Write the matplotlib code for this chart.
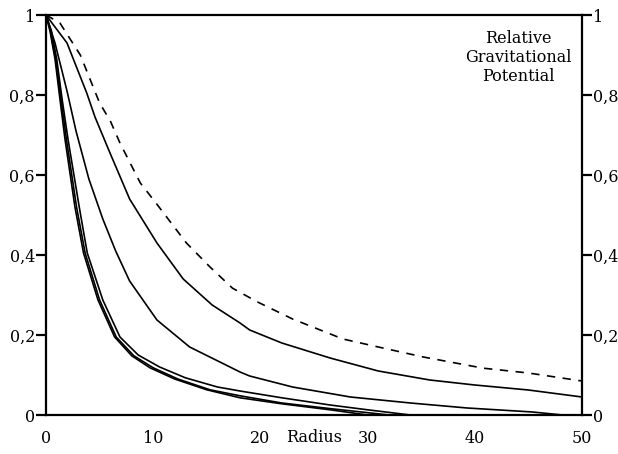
import numpy as np
import matplotlib
matplotlib.use("Agg")
import matplotlib.pyplot as plt

# values (radius, relative potential)
dash_r = [0, 1.3, 3.2, 5.0, 6.0, 6.9, 8.8, 10.4, 13.1, 15.3, 17.4, 19.7, 23, 27.7, 31, 35.2, 40.8, 45, 50]
dash_v = [1, 0.98, 0.90, 0.78, 0.735, 0.68, 0.58, 0.525, 0.43, 0.37, 0.317, 0.283, 0.24, 0.19, 0.17, 0.145, 0.117, 0.105, 0.085]

a_r = [0, 0.84, 1.96, 3.8, 4.57, 5.97, 7.8, 10.35, 12.8, 15.5, 18.1, 19, 22, 26.5, 31, 35.8, 40, 45, 50]
a_v = [1, 0.97, 0.93, 0.805, 0.745, 0.655, 0.54, 0.43, 0.34, 0.275, 0.23, 0.2125, 0.18, 0.1425, 0.11, 0.0875, 0.075, 0.0625, 0.045]

b_r = [0, 0.84, 1.96, 2.8, 4.0, 5.3, 6.5, 7.8, 10.35, 13.4, 18.1, 19, 23, 28.4, 34, 39.3, 45.4, 48.2, 50]
b_v = [1, 0.93, 0.81, 0.71, 0.59, 0.49, 0.41, 0.335, 0.2375, 0.17, 0.1075, 0.0975, 0.07, 0.045, 0.03, 0.0175, 0.0075, 0.0, 0.0]

c_r = [0, 0.37, 0.84, 1.3, 1.77, 2.7, 3.5, 4.85, 6.4, 8, 9.7, 12, 15, 18.1, 22, 26.5, 30]
c_v = [1, 0.96, 0.89, 0.79, 0.69, 0.52, 0.405, 0.2875, 0.195, 0.148, 0.118, 0.09, 0.063, 0.043, 0.028, 0.013, 0.0]

d_r = [0, 0.42, 0.9, 1.4, 1.9, 2.85, 3.65, 5.0, 6.55, 8.2, 10, 12.3, 15.3, 18.1, 22, 26.5, 32]
d_v = [1, 0.96, 0.89, 0.79, 0.69, 0.52, 0.405, 0.2875, 0.195, 0.148, 0.118, 0.09, 0.063, 0.048, 0.03, 0.016, 0.0]

e_r = [0, 0.5, 1.0, 1.5, 2.05, 3.1, 3.85, 5.3, 6.9, 8.6, 10.6, 13, 16, 18.1, 22, 26.5, 30, 34]
e_v = [1, 0.96, 0.89, 0.79, 0.69, 0.52, 0.405, 0.2875, 0.195, 0.15, 0.12, 0.093, 0.07, 0.06, 0.043, 0.025, 0.013, 0.0]

x_ticks = [0, 10, 20, 30, 40, 50]
y_ticks = [0, 0.2, 0.4, 0.6, 0.8, 1]
y_labels = ["0", "0,2", "0,4", "0,6", "0,8", "1"]

plt.rcParams['font.family'] = ['DejaVu Serif']

fig = plt.figure(figsize=(6.18, 4.54), dpi=100)
ax = fig.add_axes([46 / 618, 39 / 454, 536 / 618, 400 / 454])

lw = 1.2
ax.plot(dash_r, dash_v, color='black', lw=lw, dashes=(5, 4.5))
for r, v in [(a_r, a_v), (b_r, b_v), (c_r, c_v), (d_r, d_v), (e_r, e_v)]:
    ax.plot(r, v, color='black', lw=lw)

ax.set_xlim(0, 50)
ax.set_ylim(0, 1)
for s in ax.spines.values():
    s.set_linewidth(1.6)

fs = 11.5
ax.set_xticks(x_ticks)
ax.set_xticklabels([str(t) for t in x_ticks])
ax.tick_params(axis='x', length=0, pad=11, labelsize=fs)
ax.set_yticks(y_ticks)
ax.set_yticklabels(y_labels)
ax.tick_params(axis='y', direction='out', length=7, width=1.6, pad=1, labelsize=fs,
               left=True, right=True, labelleft=True, labelright=True)

ax.text(0.5, -0.035, "Radius", transform=ax.transAxes, ha='center', va='top', fontsize=fs)
ax.text(0.881, 0.893, "Relative\nGravitational\nPotential", transform=ax.transAxes,
        ha='center', va='center', fontsize=fs, linespacing=1.15)

fig.savefig("out.png", dpi=100)
